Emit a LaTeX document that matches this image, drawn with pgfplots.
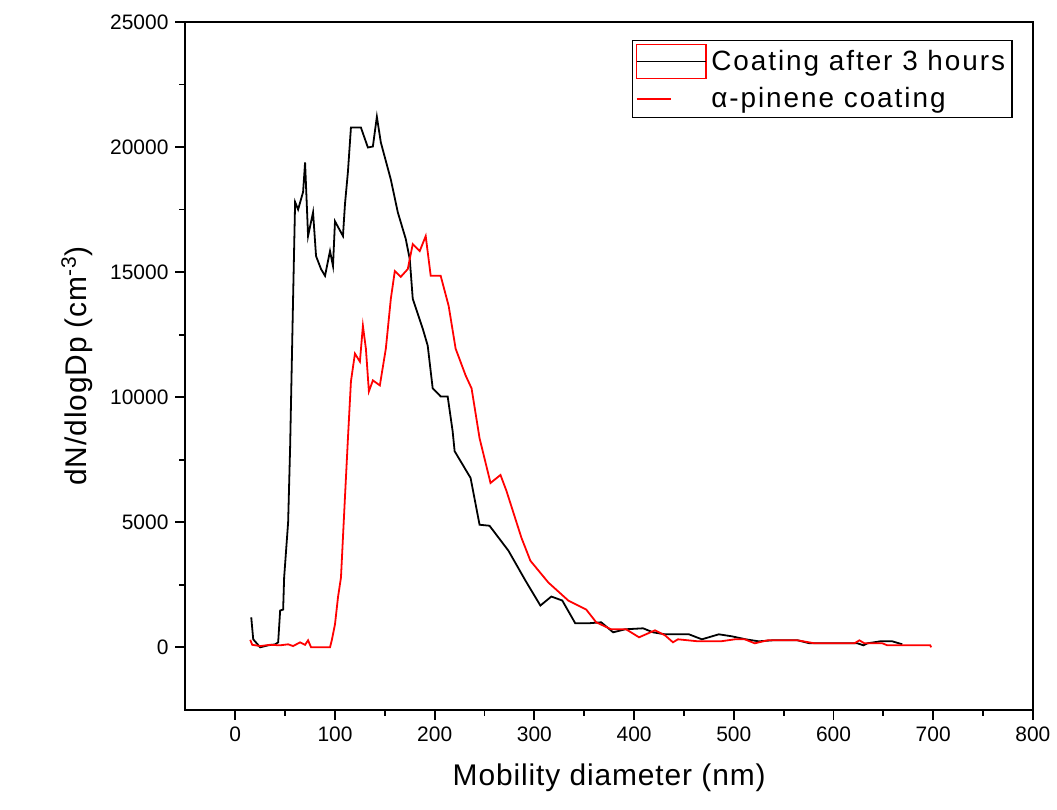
\documentclass[border=0pt]{standalone}
\usepackage{pgfplots}
\pgfplotsset{compat=1.18}
\usepackage{fontspec}
\setmainfont{Liberation Sans}
\newfontfamily\legendfont[LetterSpace=7]{Liberation Sans}
\newfontfamily\labelfont[LetterSpace=3]{Liberation Sans}
\begin{document}
\begin{tikzpicture}
\begin{axis}[
	scale only axis,
	width=425pt, height=345pt,
	xmin=-50, xmax=800, ymin=-2500, ymax=25000,
	xtick={0,100,...,800},
	ytick={0,5000,...,25000},
	scaled ticks=false,
	minor x tick num=1, minor y tick num=1,
	xtick pos=bottom, ytick pos=left,
	tick align=outside,
	major tick length=5pt, minor tick length=3pt,
	every tick/.style={black, line width=0.9pt},
	axis line style={line width=1pt},
	tick label style={font=\fontsize{10.5}{12}\selectfont},
	/pgf/number format/assume math mode=true,
	/pgf/number format/1000 sep={},
	xlabel={Mobility diameter (nm)},
	ylabel={dN/dlogDp (cm\textsuperscript{-3})},
	label style={font=\labelfont\fontsize{15}{18}\selectfont},
	xlabel style={yshift=-4pt},
	ylabel style={yshift=2pt},
	legend cell align=left,
	legend style={at={(rel axis cs:1,1)}, anchor=north east, xshift=-10pt, yshift=-9pt,
		draw=black, line width=0.8pt, font=\legendfont\fontsize{14}{16}\selectfont,
		inner sep=1.5pt, row sep=2pt},
]
\addplot[black, line width=0.9pt,
	legend image code/.code={
		\draw[red, line width=0.9pt] (0pt,-8.5pt) rectangle (35pt,8.5pt);
		\draw[black, line width=0.9pt] (0pt,0pt) -- (35pt,0pt);}]
coordinates {
(16,1200) (18,320) (25,0) (33,80) (40,120) (43,200) (45,1470) (48,1510) (49,2790)
(53,5000) (55,8000) (58,14000) (60,17800) (63,17500) (68,18200) (70,19380)
(73,16440) (78,17390) (81,15640) (86,15120) (90,14850) (95,15840) (98,15240)
(100,17030) (108,16440) (110,17710) (113,19020) (116,20780) (126,20780)
(133,19980) (138,20020) (142,21210) (146,20180) (156,18700) (163,17390)
(171,16320) (175,15520) (178,13930) (188,12740) (193,12060) (198,10350)
(206,10030) (213,10030) (218,8640) (220,7840) (236,6770) (245,4900) (255,4860)
(274,3860) (291,2670) (306,1670) (317,2030) (328,1870) (341,960) (354,960)
(367,1000) (379,600) (391,720) (409,760) (419,600) (431,520) (455,520)
(468,320) (485,520) (498,440) (512,320) (525,240) (539,280) (564,280)
(576,160) (624,160) (630,80) (634,160) (647,240) (659,240) (669,120)
};
\addlegendentry{Coating after 3 hours}
\addplot[red, line width=0.9pt]
coordinates {
(15,300) (17,100) (25,50) (35,100) (45,80) (53,120) (58,50) (65,200) (70,100)
(73,280) (76,0) (95,0) (97,320) (100,920) (103,2000) (106,2790) (110,6000)
(113,8360) (116,10630) (120,11740) (125,11420) (128,12850) (131,11940)
(134,10230) (138,10670) (145,10470) (151,11940) (156,13930) (160,15040)
(166,14810) (173,15120) (178,16120) (185,15840) (191,16440) (196,14850)
(206,14850) (214,13650) (221,11940) (231,10870) (237,10350) (245,8360)
(256,6570) (266,6890) (272,6250) (287,4380) (296,3460) (314,2590) (334,1870)
(344,1670) (352,1510) (362,1000) (377,720) (392,720) (405,400) (421,680)
(431,480) (439,200) (444,320) (464,240) (487,240) (501,320) (511,320)
(521,160) (534,280) (564,280) (581,160) (621,160) (626,280) (631,160)
(649,160) (654,80) (697,80) (698,0)
};
\addlegendentry{α-pinene coating}
\end{axis}
\path (-93pt,-50pt) rectangle (435.5pt,356pt);
\end{tikzpicture}
\end{document}
